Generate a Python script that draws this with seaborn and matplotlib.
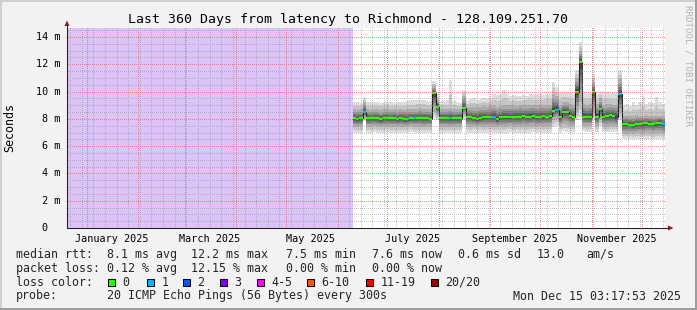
import numpy as np
import pandas as pd
import matplotlib
matplotlib.use("Agg")
import matplotlib.pyplot as plt
import matplotlib.transforms as mtransforms
from matplotlib.patches import Rectangle, Polygon
from matplotlib.lines import Line2D
import seaborn as sns

# ---------------- data ----------------
TITLE = "Last 360 Days from latency to Richmond - 128.109.251.70"
SPAN_DAYS = 360
GRAPH_START = pd.Timestamp("2024-12-20 03:17:53")
DATA_START_DAY = 172.0      # first day with measurements (no data before)
BIN_DAYS = 2.0

median_ms = [
    8.04, 7.98, 8.04, 8.48, 8.04, 8.04, 8.04, 8.04, 7.97, 8.04,
    8.04, 8.04, 8.04, 7.97, 8.04, 7.97, 7.97, 8.04, 8.04, 8.04,
    8.04, 8.04, 8.04, 8.00, 9.87, 8.90, 8.04, 8.04, 8.04, 8.04,
    8.04, 8.04, 8.04, 8.80, 8.10, 8.10, 8.04, 7.97, 8.06, 8.10,
    8.10, 8.12, 8.16, 7.97, 8.10, 8.13, 8.13, 8.10, 8.16, 8.13,
    8.16, 8.20, 8.13, 8.16, 8.20, 8.13, 8.16, 8.20, 8.16, 8.20,
    8.60, 8.65, 8.15, 8.50, 8.50, 8.20, 8.15, 10.00, 12.20, 8.15,
    8.15, 8.15, 10.00, 8.15, 8.70, 8.15, 8.20, 8.25, 8.20, 8.10,
    9.80, 7.60, 7.60, 7.58, 7.55, 7.60, 7.62, 7.66, 7.70, 7.65,
    7.62, 7.66, 7.72, 7.60,
]
loss_count = [
    0, 0, 0, 1, 0, 0, 0, 0, 0, 0,
    0, 0, 0, 0, 0, 0, 0, 0, 1, 0,
    0, 0, 0, 0, 0, 0, 0, 0, 0, 1,
    0, 0, 0, 0, 0, 0, 0, 0, 0, 0,
    0, 0, 1, 0, 0, 0, 0, 0, 0, 0,
    0, 0, 0, 0, 0, 0, 0, 0, 0, 0,
    0, 1, 0, 0, 0, 0, 0, 0, 0, 0,
    0, 0, 0, 0, 0, 0, 0, 0, 0, 3,
    1, 0, 0, 0, 0, 0, 0, 0, 0, 0,
    0, 0, 0, 1,
]
smoke_min = [
    7.00, 6.98, 7.00, 7.85, 7.00, 6.98, 7.02, 7.00, 6.97, 7.00,
    7.02, 6.98, 7.00, 6.97, 7.00, 6.98, 7.00, 7.02, 7.00, 6.98,
    7.00, 6.97, 7.00, 7.00, 8.05, 7.90, 7.00, 6.98, 7.00, 6.97,
    7.00, 6.98, 7.00, 7.90, 7.00, 6.98, 7.00, 6.96, 7.00, 6.98,
    7.00, 7.02, 6.98, 6.96, 7.00, 6.98, 7.00, 7.02, 6.98, 7.00,
    6.97, 7.00, 6.98, 7.00, 7.02, 6.98, 7.00, 6.98, 7.00, 7.00,
    7.40, 7.50, 7.00, 7.10, 7.05, 7.00, 7.05, 7.90, 8.10, 7.10,
    7.05, 7.05, 7.90, 7.05, 7.50, 7.05, 7.02, 7.05, 7.02, 7.05,
    7.90, 6.55, 6.52, 6.55, 6.50, 6.55, 6.55, 6.52, 6.55, 6.55,
    6.50, 6.55, 6.55, 6.55,
]
smoke_lo = [
    7.42, 7.40, 7.42, 8.05, 7.42, 7.40, 7.44, 7.42, 7.38, 7.42,
    7.44, 7.40, 7.42, 7.38, 7.42, 7.40, 7.42, 7.44, 7.42, 7.40,
    7.42, 7.38, 7.42, 7.42, 8.50, 8.20, 7.42, 7.40, 7.42, 7.38,
    7.42, 7.40, 7.42, 8.30, 7.45, 7.42, 7.45, 7.40, 7.45, 7.42,
    7.45, 7.48, 7.42, 7.40, 7.45, 7.42, 7.45, 7.48, 7.42, 7.45,
    7.42, 7.45, 7.42, 7.45, 7.48, 7.42, 7.45, 7.42, 7.45, 7.45,
    7.90, 8.00, 7.45, 7.60, 7.55, 7.45, 7.50, 8.50, 9.20, 7.50,
    7.45, 7.45, 8.40, 7.45, 7.90, 7.45, 7.42, 7.48, 7.45, 7.45,
    8.40, 6.95, 6.92, 6.95, 6.90, 6.95, 6.95, 6.92, 6.98, 6.95,
    6.90, 6.95, 6.95, 6.95,
]
smoke_hi = [
    8.70, 8.68, 8.72, 9.20, 8.70, 8.68, 8.72, 8.70, 8.66, 8.70,
    8.72, 8.68, 8.70, 8.66, 8.70, 8.68, 8.72, 8.74, 8.70, 8.72,
    8.76, 8.74, 8.72, 8.70, 10.40, 9.40, 8.72, 8.70, 8.74, 8.80,
    8.74, 8.72, 8.74, 9.70, 8.85, 8.88, 8.84, 8.86, 8.90, 8.92,
    8.88, 8.95, 8.98, 8.90, 8.95, 9.00, 9.02, 8.98, 9.00, 8.96,
    9.02, 8.98, 9.00, 9.05, 9.00, 8.98, 9.02, 9.00, 9.04, 9.05,
    9.80, 9.70, 9.05, 9.20, 9.25, 9.10, 9.05, 11.00, 13.00, 9.10,
    9.05, 9.10, 10.70, 9.10, 9.50, 9.05, 9.10, 9.10, 9.05, 9.05,
    10.90, 8.20, 8.22, 8.18, 8.20, 8.25, 8.22, 8.24, 8.26, 8.22,
    8.20, 8.24, 8.22, 8.20,
]
smoke_max = [
    9.20, 9.25, 9.18, 9.60, 9.20, 9.22, 9.25, 9.20, 9.18, 9.22,
    9.25, 9.20, 9.18, 9.22, 9.25, 9.20, 9.28, 9.35, 9.38, 9.40,
    9.35, 9.38, 9.32, 9.30, 10.75, 9.85, 9.30, 9.28, 9.35, 10.85,
    9.30, 9.20, 9.18, 10.10, 9.40, 9.45, 9.50, 9.38, 9.45, 9.50,
    9.42, 9.55, 9.80, 9.75, 9.80, 10.10, 9.85, 9.70, 9.75, 9.70,
    9.65, 9.72, 9.70, 9.80, 9.75, 9.85, 9.90, 9.75, 9.80, 9.85,
    10.70, 10.30, 9.90, 10.00, 9.95, 9.90, 9.85, 11.60, 13.60, 9.95,
    9.80, 9.90, 11.30, 9.85, 10.00, 9.90, 9.95, 9.85, 9.90, 9.90,
    11.60, 9.00, 9.10, 8.95, 9.20, 9.05, 9.25, 9.60, 9.10, 9.20,
    9.15, 9.60, 9.25, 9.10,
]

y_max = 14.66
y_ticks = [0, 2, 4, 6, 8, 10, 12, 14]
y_tick_labels = ["0", "2 m", "4 m", "6 m", "8 m", "10 m", "12 m", "14 m"]
x_tick_dates = ["2025-01-16", "2025-03-16", "2025-05-16",
                "2025-07-16", "2025-09-16", "2025-11-16"]
x_tick_labels = ["January 2025", "March 2025", "May 2025",
                 "July 2025", "September 2025", "November 2025"]

loss_labels = ["0", "1", "2", "3", "4-5", "6-10", "11-19", "20/20"]
loss_colors = ["#26ff00", "#00b8ff", "#0059ff", "#7e00ff",
               "#ff00ff", "#ff5500", "#ff0000", "#a10000"]

stats_rtt = ["median rtt:", "8.1 ms avg", "12.2 ms max", "7.5 ms min",
             "7.6 ms now", "0.6 ms sd", "13.0", "am/s"]
stats_loss = ["packet loss:", "0.12 % avg", "12.15 % max", "0.00 % min",
              "0.00 % now"]
probe_text = ["probe:", "20 ICMP Echo Pings (56 Bytes) every 300s"]
stamp_text = "Mon Dec 15 03:17:53 2025"
ylabel_text = "Seconds"
watermark_text = "RRDTOOL / TOBI OETIKER"

# ---------------- style ----------------
sns.set_style("white")
plt.rcParams["font.family"] = ["DejaVu Sans Mono"]
W, H = 697, 310
BG = "#f2f2f2"
MONO = "DejaVu Sans Mono"
PLOT_L, PLOT_T, PLOT_W, PLOT_H = 67, 28, 598, 200   # pixel box of the canvas

fig = plt.figure(figsize=(W / 100, H / 100), dpi=100, facecolor=BG)
ax = fig.add_axes([PLOT_L / W, (H - PLOT_T - PLOT_H) / H, PLOT_W / W, PLOT_H / H])
ax.set_facecolor("white")


def fx(px):
    return px / W


def fy(py):
    return 1 - py / H


# ---------------- derived series ----------------
n = len(median_ms)
edges = DATA_START_DAY + BIN_DAYS * np.arange(n + 1)
med = np.asarray(median_ms)
smin = np.asarray(smoke_min)
slo = np.asarray(smoke_lo)
shi = np.asarray(smoke_hi)
smax = np.asarray(smoke_max)


def ext(a):
    return np.append(a, a[-1])


# unknown (no data) region
ax.axvspan(0, DATA_START_DAY, color="#dcc3f9", lw=0, zorder=0.5)

# smoke layers (outer light -> inner dark)
layers = [(0.0, None), (0.5, None), (1.0, None),
          (0.30, "in"), (0.50, "in"), (0.68, "in"), (0.82, "in"), (0.92, "in")]
nl = len(layers)
for k, (f, part) in enumerate(layers):
    if part is None:
        lo_b = smin + (slo - smin) * f
        hi_b = smax + (shi - smax) * f
    else:
        lo_b = slo + (med - slo) * f
        hi_b = shi + (med - shi) * f
    g = (221 - k * (171 / (nl - 1))) / 255
    ax.fill_between(edges, ext(lo_b), ext(hi_b), step="post",
                    color=(g, g, g), lw=0, zorder=1)

# median: dark connecting line + loss coloured segments
df_med = pd.DataFrame({"day": edges, "median": ext(med)})
sns.lineplot(data=df_med, x="day", y="median", ax=ax, color="#202020",
             lw=0.75, drawstyle="steps-post", zorder=3, legend=False)


def loss_idx(c):
    if c <= 3:
        return c
    if c <= 5:
        return 4
    if c <= 10:
        return 5
    if c <= 19:
        return 6
    return 7


seg_cols = [loss_colors[loss_idx(c)] for c in loss_count]
ax.hlines(med, edges[:-1], edges[1:], colors=seg_cols, lw=1.7, zorder=4)

# ---------------- axes / ticks ----------------
ax.set_xlim(0, SPAN_DAYS)
ax.set_ylim(0, y_max)
for s in ax.spines.values():
    s.set_visible(False)
ax.set_xlabel("")
ax.set_ylabel("")

month_days = [(d - GRAPH_START) / pd.Timedelta(days=1)
              for d in pd.date_range("2025-01-01", "2025-12-01", freq="MS")]
week_days = [(d - GRAPH_START) / pd.Timedelta(days=1)
             for d in pd.date_range("2024-12-22", "2025-12-14", freq="W-SUN")]
minor_y = list(np.arange(0.5, y_max, 0.5))
ax.set_xticks(month_days)
ax.set_xticks(week_days, minor=True)
ax.set_yticks(y_ticks)
ax.set_yticks(minor_y, minor=True)
ax.tick_params(which="both", labelbottom=False, labelleft=False)
ax.tick_params(which="major", length=3, width=0.7, color="#1f1f1f", direction="out")
ax.tick_params(which="minor", length=2, width=0.7, color="#8f8f8f", direction="out")
ax.grid(False)

# dotted rrdtool-style grid, 1px on / 1px off, placed with the axes transform
grid_img = np.zeros((PLOT_H, PLOT_W, 4))
minor_rgba = (0.56, 0.56, 0.56, 0.5)
major_rgba = (0.87, 0.31, 0.31, 0.6)


def put_h(v, rgba):
    yd = ax.transData.transform((0, v))[1]
    r = int(round(H - yd)) - PLOT_T
    if 0 <= r < PLOT_H:
        grid_img[r, 1::2] = rgba


def put_v(d, rgba):
    xd = ax.transData.transform((d, 0))[0]
    c = int(round(xd)) - PLOT_L
    if 0 < c < PLOT_W:
        grid_img[0::2, c] = rgba


for v in minor_y:
    put_h(v, minor_rgba)
for d in week_days:
    put_v(d, minor_rgba)
for v in y_ticks:
    put_h(v, major_rgba)
for d in month_days:
    put_v(d, major_rgba)
fig.figimage(grid_img, xo=PLOT_L, yo=H - PLOT_T - PLOT_H, origin="upper", zorder=1)

# y tick labels
ty = mtransforms.blended_transform_factory(ax.transAxes, ax.transData)
for v, lab in zip(y_ticks, y_tick_labels):
    right_px = 60 if lab != "0" else 47.8
    ax.text((right_px - PLOT_L) / PLOT_W, v, lab, transform=ty, ha="right",
            va="center", fontsize=7.3, family=MONO, color="black")

# x tick labels
tx = mtransforms.blended_transform_factory(ax.transData, ax.transAxes)
for d, lab in zip(x_tick_dates, x_tick_labels):
    day = (pd.Timestamp(d) - GRAPH_START) / pd.Timedelta(days=1)
    ax.text(day, -(238.5 - 228) / PLOT_H, lab, transform=tx, ha="center",
            va="center", fontsize=7.3, family=MONO, color="black")

# axis lines with arrows
axis_col = (0.12, 0.12, 0.12)
arrow_col = (0.5, 0.12, 0.12)
fig.add_artist(Line2D([fx(67), fx(67)], [fy(228), fy(25)], color=axis_col,
                      lw=0.75, transform=fig.transFigure, zorder=3))
fig.add_artist(Line2D([fx(67), fx(669)], [fy(228), fy(228)], color=axis_col,
                      lw=0.75, transform=fig.transFigure, zorder=3))
fig.add_artist(Polygon([(fx(64.5), fy(26)), (fx(69.5), fy(26)), (fx(67), fy(20.5))],
                       closed=True, color=arrow_col, transform=fig.transFigure, lw=0,
                       zorder=3))
fig.add_artist(Polygon([(fx(668), fy(225.5)), (fx(668), fy(230.5)), (fx(673.5), fy(228))],
                       closed=True, color=arrow_col, transform=fig.transFigure, lw=0,
                       zorder=3))

# ---------------- texts ----------------
fig.text(fx(348.5), fy(19), TITLE, ha="center", va="center", fontsize=9.5,
         family=MONO, color="black")
fig.text(fx(10), fy(128), ylabel_text, ha="center", va="center", rotation=90,
         fontsize=8.4, family=MONO, color="black")
fig.text(fx(688), fy(5), watermark_text, ha="center", va="top", rotation=270,
         fontsize=6.6, family=MONO, color="#b4b4b4")

cols = [16, 107.3, 191, 286, 372.3, 458.3, 536.7, 586.7]
for i, s in enumerate(stats_rtt):
    fig.text(fx(cols[i]), fy(254.3), s, ha="left", va="center", fontsize=8.4,
             family=MONO)
for i, s in enumerate(stats_loss):
    fig.text(fx(cols[i]), fy(268.3), s, ha="left", va="center", fontsize=8.4,
             family=MONO)
fig.text(fx(16), fy(282), "loss color:", ha="left", va="center", fontsize=8.4,
         family=MONO)
box_x = [108, 147, 183, 219.5, 256.5, 307, 366, 431]
for bx, lab, c in zip(box_x, loss_labels, loss_colors):
    fig.add_artist(Rectangle((fx(bx), fy(285.5)), 7 / W, 7 / H, facecolor=c,
                             edgecolor="black", lw=0.75, transform=fig.transFigure))
    fig.text(fx(bx + 14.5), fy(282), lab, ha="left", va="center", fontsize=8.4,
             family=MONO)
fig.text(fx(cols[0]), fy(296), probe_text[0], ha="left", va="center",
         fontsize=8.4, family=MONO)
fig.text(fx(cols[1]), fy(296), probe_text[1], ha="left", va="center",
         fontsize=8.4, family=MONO)
fig.text(fx(513.3), fy(296), stamp_text, ha="left", va="center", fontsize=8.4,
         family=MONO)

# 3D frame of the image
shadeA, shadeB = "#cfcfcf", "#9e9e9e"
fig.add_artist(Rectangle((0, fy(2)), 1, 2 / H, color=shadeA, lw=0,
                         transform=fig.transFigure))
fig.add_artist(Rectangle((0, 0), 2 / W, 1, color=shadeA, lw=0,
                         transform=fig.transFigure))
fig.add_artist(Rectangle((0, 0), 1, 2 / H, color=shadeB, lw=0,
                         transform=fig.transFigure))
fig.add_artist(Rectangle((fx(W - 2), 0), 2 / W, 1, color=shadeB, lw=0,
                         transform=fig.transFigure))

fig.savefig("out.png", dpi=100, facecolor=BG)
